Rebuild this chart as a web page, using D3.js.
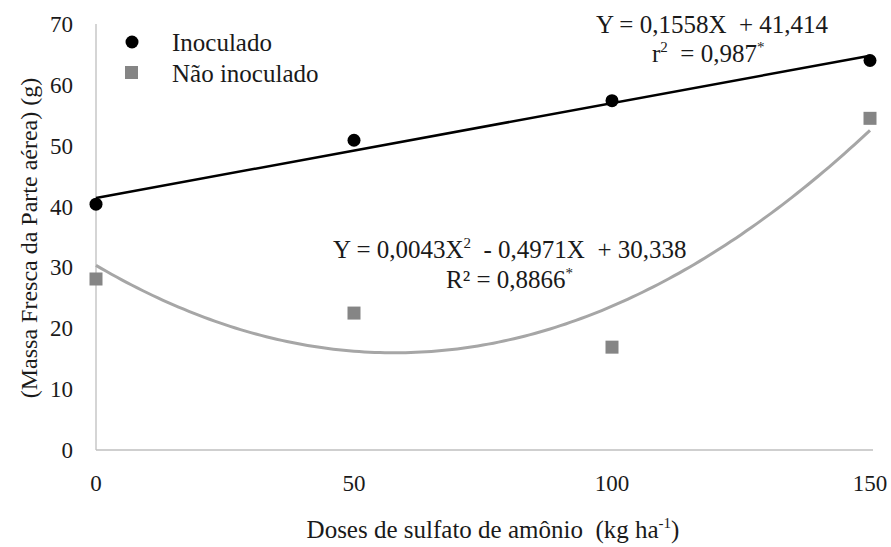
<!DOCTYPE html>
<html>
<head>
<meta charset="utf-8">
<script src="https://cdn.jsdelivr.net/npm/d3@7"></script>
<style>
  body { margin: 0; background: #fff; }
  svg text { white-space: pre; }
</style>
</head>
<body>
<div id="chart"></div>
<script>
// doses (kg/ha)
const doses = [0, 50, 100, 150]
const inoculado = [40.4, 50.9, 57.4, 64.0]
const naoInoculado = [28.1, 22.5, 16.9, 54.5]
const yTicks = [0, 10, 20, 30, 40, 50, 60, 70]
// coefficients from the equations printed on the chart
const linCoef = [41.414, 0.1558]
const quadCoef = [30.338, -0.4971, 0.0043]

const width = 891, height = 547
const margin = {top: 24, right: 21, bottom: 97, left: 96}
const serif = "'Liberation Serif', 'Times New Roman', serif"
const ink = "#1a1a1a"

const svg = d3.select("#chart").append("svg")
    .attr("width", width)
    .attr("height", height)
    .style("font-family", serif)

const x = d3.scaleLinear().domain([0, 150]).range([margin.left, width - margin.right])
const y = d3.scaleLinear().domain([0, 70]).range([height - margin.bottom, margin.top])

// axes
svg.append("line")
    .attr("x1", x(0)).attr("x2", x(0))
    .attr("y1", y(70)).attr("y2", y(0))
    .style("stroke", "#bfbfbf").style("stroke-width", 1.3)
svg.append("line")
    .attr("x1", x(0)).attr("x2", x(150) + 3)
    .attr("y1", y(0)).attr("y2", y(0))
    .style("stroke", "#bfbfbf").style("stroke-width", 1.3)

svg.selectAll(".ytick")
    .data(yTicks)
    .enter()
    .append("text")
    .attr("x", 73)
    .attr("y", d => y(d) + 8)
    .attr("text-anchor", "end")
    .style("font-size", "23px")
    .style("fill", ink)
    .text(d => d)

svg.selectAll(".xtick")
    .data(doses)
    .enter()
    .append("text")
    .attr("x", d => x(d))
    .attr("y", 491)
    .attr("text-anchor", "middle")
    .style("font-size", "23px")
    .style("fill", ink)
    .text(d => d)

// axis titles
const xt = svg.append("text")
    .attr("x", 493).attr("y", 538)
    .attr("text-anchor", "middle")
    .style("font-size", "25px")
    .style("fill", ink)
xt.append("tspan").text("Doses de sulfato de amônio  (kg ha")
xt.append("tspan").attr("dy", -10).style("font-size", "15px").text("-1")
xt.append("tspan").attr("dy", 10).text(")")

svg.append("text")
    .attr("transform", "translate(37," + 238 + ") rotate(-90)")
    .attr("text-anchor", "middle")
    .style("font-size", "24px")
    .style("fill", ink)
    .text("(Massa Fresca da Parte aérea) (g)")

// trend lines
const xs = d3.range(0, 150.5, 1)
const lineGen = d3.line().x(d => x(d[0])).y(d => y(d[1]))

svg.append("path")
    .datum(xs.map(v => [v, quadCoef[0] + quadCoef[1] * v + quadCoef[2] * v * v]))
    .attr("d", lineGen)
    .style("fill", "none").style("stroke", "#a6a6a6").style("stroke-width", 3)

svg.append("path")
    .datum([0, 150].map(v => [v, linCoef[0] + linCoef[1] * v]))
    .attr("d", lineGen)
    .style("fill", "none").style("stroke", "#000").style("stroke-width", 2.5)

// points
svg.selectAll(".sq")
    .data(doses)
    .enter()
    .append("rect")
    .attr("x", (d) => x(d) - 6.5)
    .attr("y", (d, i) => y(naoInoculado[i]) - 6.5)
    .attr("width", 13).attr("height", 13)
    .style("fill", "#858585")

svg.selectAll(".dot")
    .data(doses)
    .enter()
    .append("circle")
    .attr("cx", d => x(d))
    .attr("cy", (d, i) => y(inoculado[i]))
    .attr("r", 6.5)
    .style("fill", "#000")

// legend
svg.append("circle").attr("cx", 132).attr("cy", 42).attr("r", 6.5).style("fill", "#000")
svg.append("text").attr("x", 172).attr("y", 51).style("font-size", "25px").style("fill", ink).text("Inoculado")
svg.append("rect").attr("x", 125).attr("y", 66).attr("width", 13).attr("height", 13).style("fill", "#858585")
svg.append("text").attr("x", 172).attr("y", 82).style("font-size", "25px").style("fill", ink).text("Não inoculado")

// equations
svg.append("text").attr("x", 712).attr("y", 33).attr("text-anchor", "middle")
    .style("font-size", "25px").style("fill", ink).text("Y = 0,1558X  + 41,414")
const r1 = svg.append("text").attr("x", 652).attr("y", 62).style("font-size", "25px").style("fill", ink)
r1.append("tspan").text("r")
r1.append("tspan").attr("dy", -10).style("font-size", "15px").text("2")
r1.append("tspan").attr("dy", 10).text("  = 0,987")
r1.append("tspan").attr("dy", -10).style("font-size", "15px").text("*")

const e2 = svg.append("text").attr("x", 333).attr("y", 258).style("font-size", "25px").style("fill", ink)
e2.append("tspan").text("Y = 0,0043X")
e2.append("tspan").attr("dy", -10).style("font-size", "15px").text("2")
e2.append("tspan").attr("dy", 10).text("  - 0,4971X  + 30,338")
const r2 = svg.append("text").attr("x", 446).attr("y", 288).style("font-size", "25px").style("fill", ink)
r2.append("tspan").text("R² = 0,8866")
r2.append("tspan").attr("dy", -10).style("font-size", "15px").text("*")
</script>
</body>
</html>
